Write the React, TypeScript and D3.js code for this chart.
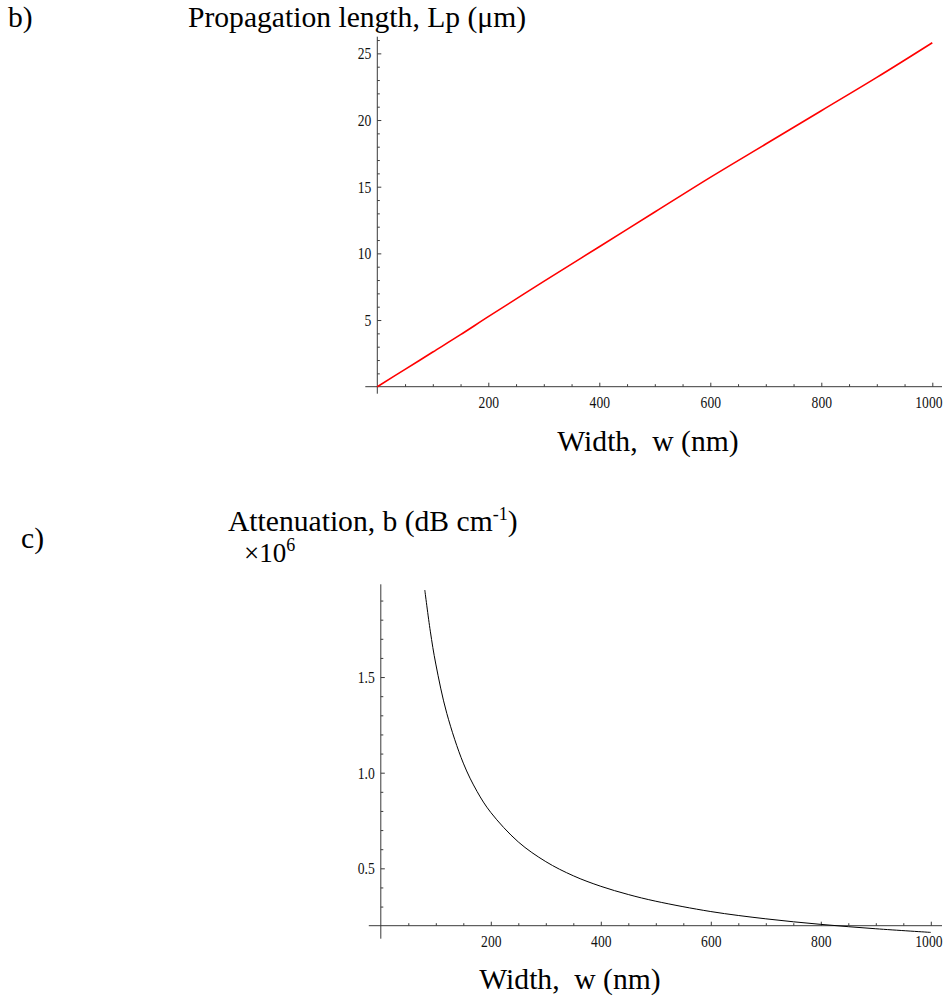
import React, {useRef, useEffect} from 'react'
import * as d3 from 'd3'

// panel b) propagation length vs width
const lpWidth = [0, 50, 100, 150, 200, 300, 400, 500, 600, 700, 800, 900, 1000]
const lpValues = [0, 1.3, 2.6, 3.9, 5.25, 7.9, 10.5, 13.1, 15.7, 18.2, 20.7, 23.2, 25.8]
const lpYTicks = [5, 10, 15, 20, 25]
const lpYMinor = [1, 2, 3, 4, 6, 7, 8, 9, 11, 12, 13, 14, 16, 17, 18, 19, 21, 22, 23, 24, 26]

// panel c) attenuation (x10^6 dB/cm) vs width
const attWidth = [80, 90, 100, 120, 150, 175, 200, 250, 300, 350, 400, 450, 500, 600, 700, 800, 900, 1000]
const attValues = [1.955, 1.74, 1.568, 1.31, 1.05, 0.902, 0.792, 0.638, 0.535, 0.461, 0.406, 0.363, 0.328, 0.274, 0.236, 0.207, 0.184, 0.165]
const attYTicks = [0.5, 1.0, 1.5]
const attYMinor = [0.3, 0.4, 0.6, 0.7, 0.8, 0.9, 1.1, 1.2, 1.3, 1.4, 1.6, 1.7, 1.8, 1.9]

const xTicks = [200, 400, 600, 800, 1000]
const xMinor = [50, 100, 150, 250, 300, 350, 450, 500, 550, 650, 700, 750, 850, 900, 950]

const serif = '"Liberation Serif", "Times New Roman", serif'
const axisColor = '#3a3a3a'
const tickFont = 16
// the original tick digits are set a little condensed
const digitWidth = 6.8
const rightEdge = 942

function drawPanel(g, cfg) {
  const x = d3.scaleLinear().domain([0, 1000]).range(cfg.xRange)
  const y = d3.scaleLinear().domain(cfg.yDomain).range(cfg.yRange)
  const x0 = x(0)
  const yBase = y(cfg.yDomain[0])

  // axis lines, Mathematica style (crossing a bit past the origin)
  g.append('line')
    .attr('x1', x0 - 12).attr('x2', rightEdge)
    .attr('y1', yBase).attr('y2', yBase)
    .attr('stroke', axisColor).attr('stroke-width', 1)
  g.append('line')
    .attr('x1', x0).attr('x2', x0)
    .attr('y1', cfg.yRange[1]).attr('y2', yBase + cfg.yOver)
    .attr('stroke', axisColor).attr('stroke-width', 1)

  // y axis ticks point inward (to the right), labels on the left
  const yMajor = g.append('g').attr('transform', `translate(${x0},0)`)
    .call(d3.axisRight(y).tickValues(cfg.yTicks).tickSize(4).tickFormat(cfg.yFormat))
  const yMin = g.append('g').attr('transform', `translate(${x0},0)`)
    .call(d3.axisRight(y).tickValues(cfg.yMinor).tickSize(2.5).tickFormat(''))

  // x axis ticks point up, labels below
  const xMajor = g.append('g').attr('transform', `translate(0,${yBase})`)
    .call(d3.axisTop(x).tickValues(xTicks).tickSize(4).tickFormat(d3.format('d')))
  const xMin = g.append('g').attr('transform', `translate(0,${yBase})`)
    .call(d3.axisTop(x).tickValues(xMinor).tickSize(2.5).tickFormat(''))

  ;[yMajor, yMin, xMajor, xMin].forEach(a => {
    a.attr('font-family', serif).attr('font-size', tickFont)
    a.select('.domain').remove()
    a.selectAll('line').attr('stroke', axisColor)
  })

  const labelWidth = s => s.replace('.', '').length * digitWidth + (s.includes('.') ? 3.5 : 0)

  yMajor.selectAll('text')
    .attr('x', -6).attr('dy', '0.34em')
    .attr('text-anchor', 'end')
    .attr('fill', '#111')
    .attr('textLength', d => labelWidth(cfg.yFormat(d)))
    .attr('lengthAdjust', 'spacingAndGlyphs')
  xMajor.selectAll('text')
    .attr('y', 21).attr('dy', 0)
    .attr('fill', '#111')
    // keep the last label inside the frame
    .attr('x', d => Math.min(0, rightEdge - (x(d) + labelWidth(String(d)) / 2)))
    .attr('textLength', d => labelWidth(String(d)))
    .attr('lengthAdjust', 'spacingAndGlyphs')

  const line = d3.line()
    .x(d => x(d[0]))
    .y(d => y(d[1]))
    .curve(d3.curveCatmullRom.alpha(0.5))

  g.append('path')
    .datum(cfg.xs.map((v, i) => [v, cfg.ys[i]]))
    .attr('d', line)
    .attr('fill', 'none')
    .attr('stroke', cfg.color)
    .attr('stroke-width', cfg.lineWidth)
}

export default function App() {
  const ref = useRef(null)

  useEffect(() => {
    const svg = d3.select(ref.current)
    svg.select('#panels').selectAll('*').remove()
    const root = svg.select('#panels')

    drawPanel(root.append('g'), {
      xRange: [377.3, 932.3],
      yDomain: [0, 26.25],
      yRange: [386.7, 36.7],
      yOver: 7,
      yTicks: lpYTicks,
      yMinor: lpYMinor,
      yFormat: d3.format('d'),
      xs: lpWidth,
      ys: lpValues,
      color: '#ff0000',
      lineWidth: 1.6
    })

    drawPanel(root.append('g'), {
      xRange: [380.8, 930.8],
      yDomain: [0.2, 1.985],
      yRange: [925.7, 584.3],
      yOver: 13,
      yTicks: attYTicks,
      yMinor: attYMinor,
      yFormat: d3.format('.1f'),
      xs: attWidth,
      ys: attValues,
      color: '#000',
      lineWidth: 1
    })
  }, [])

  const txt = {fontFamily: serif, fill: '#000'}
  const big = 29.6

  return (
    <svg ref={ref} width={943} height={998}
      style={{position: 'absolute', left: 0, top: 0, background: '#fff'}}>
      <g id="panels" />
      <text x={8} y={27} fontSize={big} style={txt}>b)</text>
      <text x={188} y={27} fontSize={big} style={txt}>Propagation length, Lp (μm)</text>
      <text x={648} y={451} fontSize={big} textAnchor="middle" style={txt} xmlSpace="preserve">Width,  w (nm)</text>

      <text x={21} y={548} fontSize={big} style={txt}>c)</text>
      <text x={228} y={531} fontSize={big} style={txt}>
        Attenuation, b (dB cm<tspan dy={-11} fontSize={18}>-1</tspan><tspan dy={11}>)</tspan>
      </text>
      <text x={244} y={562} fontSize={27} style={txt}>
        ×10<tspan dy={-11} fontSize={18}>6</tspan>
      </text>
      <text x={570} y={989} fontSize={big} textAnchor="middle" style={txt} xmlSpace="preserve">Width,  w (nm)</text>
    </svg>
  )
}
